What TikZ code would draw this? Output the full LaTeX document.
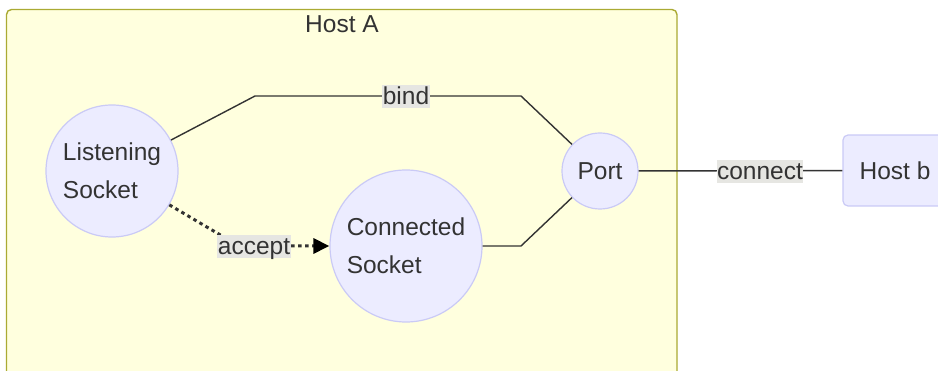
\documentclass[tikz,border=0pt]{standalone}
\usepackage{fontspec}
\setmainfont{Liberation Sans}
\usetikzlibrary{arrows.meta}

\definecolor{clusterfill}{HTML}{FFFFDE}
\definecolor{clusterline}{HTML}{AAAA33}
\definecolor{nodefill}{HTML}{ECECFF}
\definecolor{nodeline}{HTML}{CACAF6}
\definecolor{ink}{HTML}{333333}
\definecolor{labelbg}{HTML}{E6E6E2}

\tikzset{
  roundnode/.style={circle, draw=nodeline, fill=nodefill, line width=1.2pt,
    inner sep=0pt, align=left, text=ink},
  boxnode/.style={draw=nodeline, fill=nodefill, line width=1.2pt,
    rounded corners=5pt, inner sep=0pt, text=ink},
  edgelabel/.style={fill=labelbg, inner xsep=0.5pt, inner ysep=0pt,
    text height=20pt, text depth=3pt, text=ink},
  link/.style={draw=ink, line width=1.4pt},
  dottedlink/.style={draw=ink, line width=3pt, dash pattern=on 3.5pt off 3.5pt,
    -{Triangle[length=16pt,width=15pt,color=black]}},
}

\begin{document}
\begin{tikzpicture}[x=1pt, y=-1pt, font=\fontsize{24.5}{38}\selectfont]
  \useasboundingbox (0,0) rectangle (938,371);
  \clip (0,0) rectangle (938,371);

  % cluster
  \draw[fill=clusterfill, draw=clusterline, line width=1.4pt, rounded corners=5pt]
    (6.5,9.5) rectangle (677,420);
  \node[text=ink] (hostA) at (342,24) {Host A};

  % nodes
  \node[roundnode, minimum size=132pt] (ls) at (112,171) {Listening\\Socket};
  \node[roundnode, minimum size=152pt] (cs) at (406,246) {Connected\\Socket};
  \node[roundnode, minimum size=76pt] (port) at (600,171) {Port};
  \node[boxnode, minimum width=104pt, minimum height=71pt] (hostb) at (895,170.5) {Host b};

  % bend points
  \coordinate (b1) at (255,96);
  \coordinate (b2) at (521,96);
  \coordinate (c1) at (521,246);
  \coordinate (a1) at (239,246);

  % connectors
  \draw[link] (ls) -- (b1) -- (b2) -- (port);
  \draw[link] (cs.east) -- (c1) -- (port);
  \draw[link] (port) -- (hostb);
  \draw[dottedlink] (ls) -- (a1) -- (cs.west);

  % edge labels
  \node[edgelabel] (lbind) at (406,96.5) {bind};
  \node[edgelabel] (lconnect) at (760,171.5) {connect};
  \node[edgelabel] (laccept) at (254,246.5) {accept};
\end{tikzpicture}
\end{document}
